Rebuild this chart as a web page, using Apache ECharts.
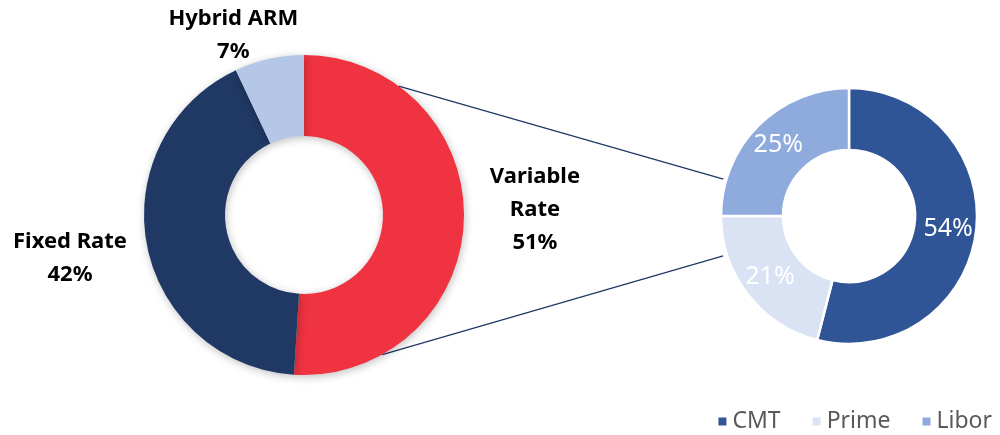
<!DOCTYPE html>
<html>
<head>
<meta charset="utf-8">
<script src="https://cdn.jsdelivr.net/npm/echarts@6/dist/echarts.min.js"></script>
<style>
  html, body { margin: 0; padding: 0; background: #fff; }
  #chart { width: 1000px; height: 435px; }
</style>
</head>
<body>
<div id="chart"></div>
<script>
// loan mix (left) and variable-rate breakdown (right)
const mixNames = ['Variable Rate', 'Fixed Rate', 'Hybrid ARM']
const mixValues = [51, 42, 7]
const mixLabels = ['Variable\nRate\n51%', 'Fixed Rate\n42%', 'Hybrid ARM\n7%']

const indexNames = ['CMT', 'Prime', 'Libor']
const indexValues = [54, 21, 25]

const mixColors = ['#EF3340', '#203864', '#B4C7E7']
const indexColors = ['#2F5597', '#DAE3F3', '#8FAADC']

const leftCenter = [304, 215]
const leftRadius = [79, 160]
const rightCenter = [849, 216]
const rightRadius = [66, 128]

// label anchor per slice of left donut (distance from centre, angle from top clockwise)
const leftLabelPolar = [[231, 88.8], [238, 259.5], [193, 338.5]]

function polar (c, r, deg) {
  const a = deg * Math.PI / 180
  return [c[0] + r * Math.sin(a), c[1] - r * Math.cos(a)]
}

const chart = echarts.init(document.getElementById('chart'))
const font = '"Noto Sans", "Open Sans", sans-serif'

const top1 = polar(leftCenter, leftRadius[1], 36.3)
const top2 = polar(rightCenter, 131, 286.4)
const bot1 = polar(leftCenter, leftRadius[1], 150.7)
const bot2 = polar(rightCenter, 132, 252.4)

chart.setOption({
  animation: false,
  legend: {
    data: indexNames,
    right: 3,
    bottom: -3,
    icon: 'rect',
    itemWidth: 10,
    itemHeight: 10,
    itemGap: 30,
    textStyle: { color: '#595959', fontSize: 23, fontFamily: font }
  },
  graphic: [
    { type: 'line', z: 0, shape: { x1: top1[0], y1: top1[1], x2: top2[0], y2: top2[1] }, style: { stroke: '#203864', lineWidth: 1.3 } },
    { type: 'line', z: 0, shape: { x1: bot1[0], y1: bot1[1], x2: bot2[0], y2: bot2[1] }, style: { stroke: '#203864', lineWidth: 1.3 } }
  ],
  series: [
    {
      type: 'pie',
      center: leftCenter,
      radius: leftRadius,
      startAngle: 90,
      clockwise: true,
      silent: true,
      z: 3,
      itemStyle: {
        shadowBlur: 8,
        shadowColor: 'rgba(0,0,0,0.25)',
        shadowOffsetX: 1,
        shadowOffsetY: 2
      },
      label: {
        show: true,
        position: 'outside',
        formatter: p => mixLabels[p.dataIndex],
        color: '#000',
        fontSize: 22,
        fontWeight: 'bold',
        fontFamily: font,
        lineHeight: 33,
        align: 'center',
        overflow: 'none'
      },
      labelLine: { show: false },
      labelLayout: p => {
        const lp = leftLabelPolar[p.dataIndex]
        const pt = polar(leftCenter, lp[0], lp[1])
        return { x: pt[0], y: pt[1], align: 'center', verticalAlign: 'middle' }
      },
      data: mixNames.map((n, i) => ({ name: n, value: mixValues[i], itemStyle: { color: mixColors[i] } }))
    },
    {
      type: 'pie',
      center: rightCenter,
      radius: rightRadius,
      startAngle: 90,
      clockwise: true,
      silent: true,
      z: 3,
      itemStyle: { borderColor: '#fff', borderWidth: 2.5 },
      label: {
        show: true,
        position: 'inside',
        formatter: '{c}%',
        color: '#fff',
        fontSize: 25,
        fontFamily: font
      },
      labelLine: { show: false },
      data: indexNames.map((n, i) => ({ name: n, value: indexValues[i], itemStyle: { color: indexColors[i] } }))
    }
  ]
})
</script>
</body>
</html>
